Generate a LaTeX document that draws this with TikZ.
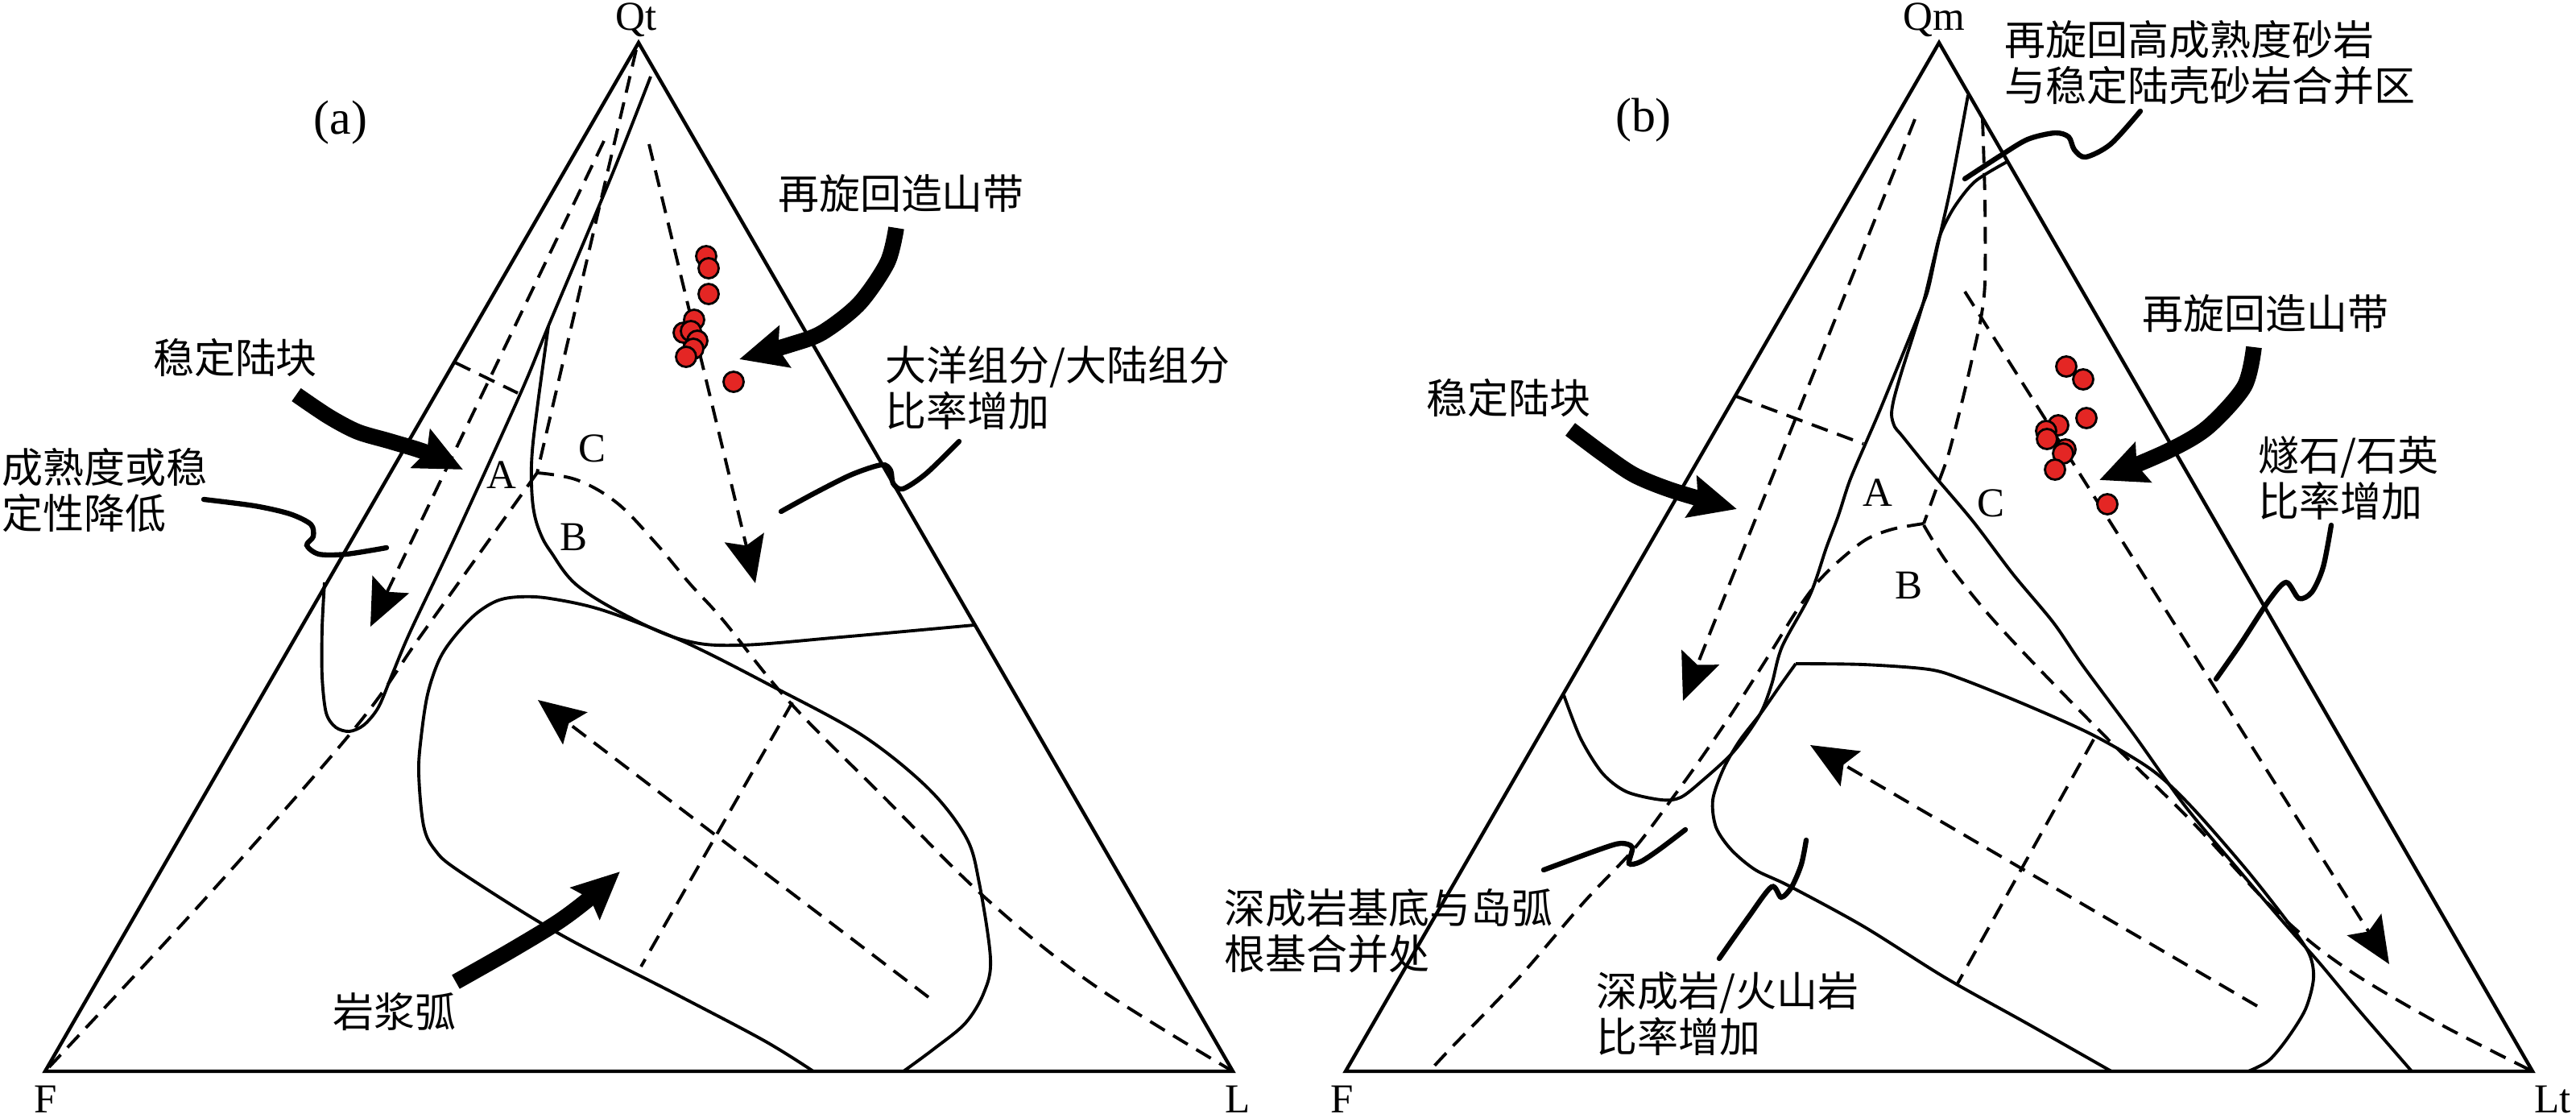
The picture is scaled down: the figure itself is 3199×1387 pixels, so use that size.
\documentclass[tikz,border=0pt]{standalone}
\usepackage{fontspec}
\setmainfont{Liberation Serif}
\newfontfamily\cjk{Noto Sans CJK SC}
\usetikzlibrary{arrows.meta}
\definecolor{dotred}{RGB}{228,38,36}
\tikzset{
  edge/.style={line width=1.25pt, line join=miter},
  bnd/.style={line width=1.1pt},
  dsh/.style={line width=1.1pt, dash pattern=on 6pt off 3.5pt},
  lead/.style={line width=1.8pt, line cap=round},
  big/.style={line width=5.6pt, -{Stealth[length=0.58cm,width=0.52cm,inset=0.08cm]}},
  dar/.style={dsh, -{Stealth[length=0.58cm,width=0.5cm,inset=0.1cm]}},
  dot/.style={circle, draw=black, line width=0.8pt, fill=dotred, minimum size=0.25cm, inner sep=0pt},
  lat/.style={font=\fontsize{14.5pt}{16pt}\selectfont, inner sep=0pt},
  vtx/.style={lat, anchor=base},
  pan/.style={font=\fontsize{17pt}{19pt}\selectfont, inner sep=0pt},
  zh/.style={font=\cjk\fontsize{14.5pt}{16.2pt}\selectfont, inner sep=0pt, align=left},
}
\begin{document}
\begin{tikzpicture}[x=0.01cm, y=-0.01cm]
\useasboundingbox (0,0) rectangle (3199,1387);

% ================= (a) =================
\coordinate (Fa) at (56,1330);
\coordinate (Qa) at (793,53);
\coordinate (La) at (1531,1330);
\draw[edge] (Fa) -- (Qa) -- (La) -- cycle;

% dashed lines
\coordinate (Ja) at (667,587);
\draw[dsh] (790,62) -- (Ja);
\draw[dsh] plot[smooth,tension=0.6] coordinates {(667,587) (612,664) (522,790) (439,906) (251,1120) (58,1328)};
\draw[dsh] plot[smooth,tension=0.6] coordinates {(667,587) (717,596) (767,625) (815,675) (857,725) (898,770) (980,871) (1100,992) (1224,1115) (1357,1222) (1531,1330)};
\draw[dsh] (565,450) -- (643,488);
\draw[dsh] (984,872) -- (796,1200);
\draw[dar] (750,175) -- (460,778);
\draw[dar] (806,179) -- (938,724);
\draw[dar] (1153,1238) -- (668,869);

% solid boundaries
\draw[bnd] plot[smooth,tension=0.5] coordinates {(808,95) (760,217) (683,400) (647,487) (567,663) (510,783) (488,835) (470,878) (452,900) (434,908) (417,903) (405,885) (400,840) (400,780) (403,723)};
\draw[bnd] plot[smooth,tension=0.6] coordinates {(681,405) (668,500) (661,560) (660,600) (663,635) (671,662) (684,685) (717,727) (783,767) (850,795) (918,801) (1044,791) (1210,776)};
\draw[bnd] plot[smooth,tension=0.55] coordinates {(1010,1330) (949,1292) (837,1233) (694,1159) (571,1082) (540,1055) (526,1025) (520,960) (523,915) (531,862) (545,820) (563,792) (590,763) (617,746) (645,741) (683,743) (750,758) (850,797) (959,852) (1071,913) (1153,979) (1200,1040) (1216,1096) (1230,1190) (1222,1232) (1199,1270) (1160,1302) (1122,1330)};

% leaders
\draw[lead] plot[smooth,tension=0.5] coordinates {(253,620) (316,628) (360,638) (386,651) (389,666) (381,677) (396,688) (430,688) (480,680)};
\draw[lead] plot[smooth,tension=0.5] coordinates {(1191,548) (1150,588) (1121,607) (1109,600) (1106,584) (1095,577) (1058,589) (1012,612) (970,635)};

% big arrows
\draw[big] plot[smooth] coordinates {(368,490) (408,517) (444,536) (485,548) (530,562) (575,583)};
\draw[big] plot[smooth] coordinates {(1113,283) (1102,326) (1067,377) (1021,413) (981,428) (918,446)};
\draw[big] plot[smooth] coordinates {(566,1219) (633,1181) (694,1144) (735,1113) (770,1082)};

% dots
\foreach \p [count=\i] in {(877,318),(880,333),(880,365),(862,397),(849,413),(858,411),(866,423),(861,433),(852,443),(911,474)}
  \node[dot] (da\i) at \p {};

% labels
\node[vtx] (lQt) at (790,37) {Qt};
\node[pan] (lpa) at (423,152) {(a)};
\node[vtx] (lFa) at (57,1381) {F};
\node[vtx] (lLa) at (1537,1381) {L};
\node[lat] (lAa) at (623,590) {A};
\node[lat] (lCa) at (735,557) {C};
\node[lat] (lBa) at (712,667) {B};
\node[zh] (ta1) at (292,444) {稳定陆块};
\node[zh, anchor=west] (ta2) at (2,609) {成熟度或稳\\定性降低};
\node[zh] (ta3) at (1119,240) {再旋回造山带};
\node[zh, anchor=west] (ta4) at (1099,482) {大洋组分/大陆组分\\比率增加};
\node[zh] (ta5) at (490,1256) {岩浆弧};

% ================= (b) =================
\coordinate (Fb) at (1671,1330);
\coordinate (Qb) at (2408,53);
\coordinate (Lb) at (3145,1330);
\draw[edge] (Fb) -- (Qb) -- (Lb) -- cycle;

% dashed
\draw[dsh] plot[smooth,tension=0.5] coordinates {(2462,148) (2465,250) (2465,350) (2460,395) (2448,450) (2437,497) (2420,563) (2407,600) (2389,650)};
\draw[dsh] plot[smooth,tension=0.5] coordinates {(2389,650) (2350,657) (2317,670) (2283,697) (2257,723) (2230,760) (2197,813) (2151,885) (2110,945) (2079,988) (2030,1053) (1967,1120) (1886,1214) (1804,1299) (1775,1330)};
\draw[dsh] plot[smooth,tension=0.5] coordinates {(2389,652) (2417,697) (2467,760) (2527,825) (2620,920) (2722,1020) (2810,1115) (2870,1170) (2933,1215) (3033,1273) (3145,1330)};
\draw[dsh] (2156,492) -- (2314,551);
\draw[dsh] (2600,918) -- (2431,1221);
\draw[dar] (2378,148) -- (2090,870);
\draw[dar] (2440,362) -- (2967,1197);
\draw[dar] (2803,1249) -- (2248,925);

% solid
\draw[bnd] plot[smooth,tension=0.5] coordinates {(2444,118) (2423,230) (2406,306) (2395,357) (2387,380) (2360,447) (2333,513) (2317,550) (2297,597) (2283,640) (2268,680) (2248,738) (2213,803) (2200,850) (2185,888) (2153,933) (2113,970) (2087,990) (2063,993) (2020,983) (1990,960) (1963,917) (1942,863)};
\draw[bnd] plot[smooth,tension=0.5] coordinates {(2494,200) (2453,225) (2427,257) (2410,290) (2402,320) (2390,370) (2377,413) (2362,460) (2352,495) (2349,515) (2353,530) (2362,541) (2400,588) (2450,647) (2500,713) (2550,773) (2587,827) (2650,912) (2713,1000) (2780,1080) (2840,1150) (2880,1195) (2930,1255) (2995,1330)};
\draw[bnd] plot[smooth,tension=0.5] coordinates {(2622,1330) (2518,1271) (2416,1214) (2314,1150) (2222,1100) (2180,1080) (2150,1055) (2131,1027) (2127,993) (2140,955) (2160,920) (2187,885) (2210,852) (2230,824)};
\draw[bnd] plot[smooth,tension=0.5] coordinates {(2230,824) (2314,825) (2395,831) (2436,843) (2518,876) (2600,913) (2671,955) (2720,1000) (2790,1080) (2845,1150) (2868,1185) (2873,1215) (2863,1253) (2840,1290) (2817,1317) (2792,1330)};

% leaders
\draw[lead] plot[smooth,tension=0.5] coordinates {(2658,138) (2621,179) (2590,195) (2576,186) (2569,170) (2552,165) (2518,173) (2483,194) (2440,222)};
\draw[lead] plot[smooth,tension=0.5] coordinates {(2895,652) (2885,704) (2871,735) (2855,743) (2839,723) (2818,745) (2782,800) (2752,843)};
\draw[lead] plot[smooth,tension=0.5] coordinates {(1917,1080) (1988,1054) (2013,1047) (2027,1052) (2023,1072) (2037,1070) (2060,1055) (2093,1030)};
\draw[lead] plot[smooth,tension=0.5] coordinates {(2135,1190) (2171,1139) (2200,1101) (2212,1114) (2225,1101) (2237,1073) (2243,1043)};

% big arrows
\draw[big] plot[smooth] coordinates {(1950,533) (1990,563) (2030,590) (2080,610) (2157,632)};
\draw[big] plot[smooth] coordinates {(2799,431) (2787,480) (2741,531) (2690,561) (2607,596)};

% dots
\foreach \p [count=\i] in {(2566,455),(2587,471),(2591,519),(2556,528),(2541,535),(2542,545),(2565,558),(2562,563),(2552,583),(2617,626)}
  \node[dot] (db\i) at \p {};

% labels
\node[vtx] (lQm) at (2402,37) {Qm};
\node[pan] (lpb) at (2041,149) {(b)};
\node[vtx] (lFb) at (1667,1381) {F};
\node[vtx] (lLt) at (3170,1381) {Lt};
\node[lat] (lAb) at (2332,612) {A};
\node[lat] (lCb) at (2472,625) {C};
\node[lat] (lBb) at (2370,727) {B};
\node[zh] (tb1) at (1873,494) {稳定陆块};
\node[zh, anchor=west] (tb2) at (2489,78) {再旋回高成熟度砂岩\\与稳定陆壳砂岩合并区};
\node[zh] (tb3) at (2813,389) {再旋回造山带};
\node[zh, anchor=west] (tb4) at (2804,594) {燧石/石英\\比率增加};
\node[zh, anchor=west] (tb5) at (1520,1156) {深成岩基底与岛弧\\根基合并处};
\node[zh, anchor=west] (tb6) at (1982,1259) {深成岩/火山岩\\比率增加};
\end{tikzpicture}
\end{document}
